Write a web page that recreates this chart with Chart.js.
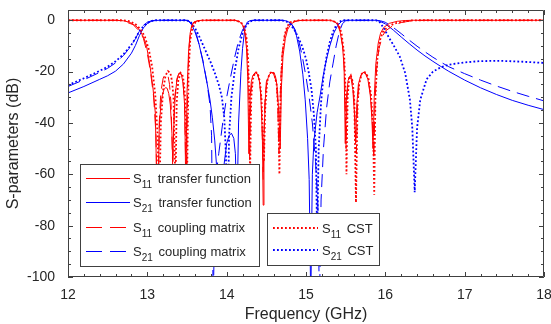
<!DOCTYPE html>
<html>
<head>
<meta charset="utf-8">
<script src="https://cdn.jsdelivr.net/npm/chart.js@4.4.0/dist/chart.umd.min.js"></script>
<style>
  html, body { margin: 0; padding: 0; background: #fff; }
  #wrap { position: relative; width: 551px; height: 324px; font-family: "Liberation Sans", Arial, sans-serif; color: #262626; }
  #c { position: absolute; left: 0; top: 0; }
  .lt { position: absolute; font-size: 13px; line-height: 13px; white-space: nowrap; color: #262626; }
  .lt sub { font-size: 10px; vertical-align: -5px; line-height: 0; margin-right: 2px; }
</style>
</head>
<body>
<div id="wrap">
  <canvas id="c" width="551" height="324"></canvas>

  <div class="lt" style="left:133px;top:172px;">S<sub>11</sub> transfer function</div>
  <div class="lt" style="left:133px;top:196px;">S<sub>21</sub> transfer function</div>
  <div class="lt" style="left:133px;top:221px;">S<sub>11</sub> coupling matrix</div>
  <div class="lt" style="left:133px;top:245px;">S<sub>21</sub> coupling matrix</div>
  <div class="lt" style="left:322px;top:222px;">S<sub>11</sub> CST</div>
  <div class="lt" style="left:322px;top:244px;">S<sub>21</sub> CST</div>
</div>

<script>
// Ejes
const xTicks = [12, 13, 14, 15, 16, 17, 18];
const yTicks = [-100, -80, -60, -40, -20, 0];

// S11 función de transferencia [GHz, dB]
const s11Tf = [
  [12,0],[12.6,0],[12.7,-0.2],[12.77,-0.7],[12.82,-1.5],[12.87,-2.6],[12.91,-4.2],[12.95,-6.4],[12.99,-10],[13.03,-17],[13.07,-26],[13.1,-36],[13.13,-80],
  [13.15,-42],[13.17,-33],[13.19,-29],[13.21,-27],[13.23,-26.2],[13.25,-26.5],[13.27,-28.5],[13.29,-33],[13.31,-44],[13.32,-55],[13.33,-44],[13.35,-30],
  [13.37,-24],[13.39,-21.5],[13.41,-20.6],[13.43,-21.2],[13.45,-24.5],[13.47,-33],[13.485,-65],[13.5,-28],[13.52,-12],[13.54,-5],[13.56,-2],[13.59,-0.6],[13.65,-0.1],[13.7,0],
  [14.1,0],[14.16,-0.5],[14.2,-1.8],[14.23,-5],[14.25,-11],[14.265,-22],[14.28,-52],[14.295,-30],[14.31,-24],[14.33,-21.5],[14.36,-20.5],[14.39,-21],[14.41,-23],
  [14.43,-29],[14.45,-45],[14.46,-72],[14.47,-45],[14.49,-29],[14.51,-23.5],[14.54,-21],[14.57,-20.3],[14.6,-20.6],[14.62,-22.5],[14.64,-27],[14.66,-38],[14.675,-50],
  [14.69,-26],[14.71,-14],[14.74,-7],[14.77,-3.5],[14.81,-1.5],[14.86,-0.5],[14.92,-0.1],[15,0],
  [15.3,0],[15.36,-0.5],[15.4,-1.8],[15.43,-4.5],[15.46,-10],[15.48,-18],[15.495,-48],[15.51,-30],[15.53,-23.5],[15.55,-22],[15.57,-23],[15.59,-27],[15.61,-36],
  [15.625,-48],[15.64,-33],[15.66,-25],[15.69,-21.5],[15.72,-20.3],[15.75,-20.8],[15.78,-23],[15.81,-29],[15.83,-38],[15.845,-50],[15.86,-30],[15.88,-17],
  [15.91,-9],[15.94,-5],[15.98,-2.8],[16.05,-1.2],[16.15,-0.4],[16.25,-0.1],[16.35,0],[18,0]
];

// S21 función de transferencia
const s21Tf = [
  [12,-28.3],[12.2,-25.8],[12.4,-23],[12.5,-21.6],[12.6,-19.8],[12.7,-17],[12.8,-12.8],[12.85,-9.8],[12.9,-6],[12.95,-3],[13,-1.3],[13.05,-0.4],[13.1,-0.1],[13.15,0],
  [13.48,0],[13.52,-0.4],[13.56,-1.8],[13.6,-4.5],[13.65,-9],[13.7,-16],[13.75,-24],[13.79,-31],[13.82,-38],[13.85,-47],[13.88,-60],[13.92,-90],[13.96,-58],
  [14,-48],[14.03,-45],[14.06,-44],[14.09,-46],[14.11,-52],[14.13,-75],[14.15,-40],[14.18,-20],[14.2,-11],[14.23,-3],[14.26,-0.7],[14.3,-0.1],[14.33,0],
  [14.7,0],[14.76,-0.3],[14.8,-1],[14.84,-2.5],[14.88,-6],[14.92,-12],[14.96,-21],[14.99,-31],[15.02,-46],[15.04,-62],[15.06,-110],[15.08,-60],[15.1,-47],
  [15.14,-36],[15.18,-29],[15.22,-21],[15.26,-15],[15.3,-10],[15.35,-5],[15.4,-2],[15.45,-0.4],[15.5,0],
  [15.88,0],[15.93,-0.4],[16,-1.4],[16.1,-3.8],[16.2,-6.5],[16.3,-9.1],[16.4,-11.6],[16.5,-13.9],[16.6,-16],[16.7,-18],[16.8,-19.9],[17,-23.3],[17.2,-26.3],
  [17.4,-28.9],[17.6,-31.2],[17.8,-33.1],[18,-34.8]
];

// S11 matriz de acoplamiento
const s11Cm = [
  [12,0],[12.62,0],[12.7,-0.3],[12.82,-1.7],[12.9,-4.2],[12.95,-7],[13,-13],[13.04,-20],[13.08,-30],[13.11,-45],[13.13,-90],[13.15,-40],[13.17,-28],
  [13.2,-22.5],[13.23,-20.8],[13.26,-21.5],[13.28,-25],[13.3,-33],[13.32,-58],[13.34,-32],[13.37,-23],[13.4,-20.5],[13.43,-21],[13.45,-24],[13.47,-33],
  [13.49,-68],[13.51,-22],[13.53,-9],[13.55,-3.5],[13.58,-1],[13.63,-0.2],[13.7,0],
  [14.1,0],[14.17,-0.6],[14.21,-2.2],[14.24,-6],[14.26,-13],[14.28,-28],[14.29,-55],[14.305,-28],[14.33,-22],[14.36,-20.3],[14.39,-21],[14.42,-25],[14.44,-33],
  [14.46,-62],[14.48,-32],[14.5,-24],[14.53,-21],[14.56,-20.2],[14.59,-20.8],[14.62,-23.5],[14.64,-30],[14.66,-52],[14.68,-24],[14.7,-13],[14.73,-6],
  [14.77,-2.5],[14.82,-0.8],[14.9,-0.1],[15,0],
  [15.3,0],[15.37,-0.6],[15.41,-2],[15.44,-5],[15.47,-12],[15.49,-25],[15.505,-50],[15.52,-28],[15.54,-22.5],[15.56,-21.5],[15.58,-23],[15.6,-28],[15.62,-40],
  [15.635,-52],[15.65,-32],[15.67,-24],[15.7,-21],[15.73,-20.2],[15.76,-21],[15.79,-24],[15.82,-31],[15.84,-42],[15.855,-54],[15.87,-32],[15.89,-19],
  [15.92,-11],[15.96,-6.5],[16,-4.2],[16.1,-2],[16.2,-0.9],[16.3,-0.35],[16.45,-0.05],[16.5,0],[18,0]
];

// S21 matriz de acoplamiento
const s21Cm = [
  [12,-25.8],[12.2,-23.2],[12.4,-20.3],[12.5,-18.7],[12.6,-16.6],[12.7,-13.7],[12.8,-9.8],[12.85,-7.2],[12.9,-4.2],[12.95,-2],[13,-0.8],[13.05,-0.2],[13.1,0],
  [13.5,0],[13.54,-0.6],[13.58,-2.3],[13.62,-5.5],[13.66,-10.5],[13.7,-15.5],[13.75,-24],[13.79,-33],[13.81,-45],[13.83,-110],[13.86,-62],[13.9,-52],
  [13.95,-40],[14,-30],[14.05,-22],[14.1,-14.5],[14.15,-8],[14.2,-3.8],[14.25,-1.2],[14.3,-0.2],[14.35,0],
  [14.72,0],[14.78,-0.5],[14.82,-1.5],[14.86,-3.5],[14.9,-7],[14.95,-13.5],[15,-22],[15.04,-30],[15.08,-40],[15.12,-55],[15.15,-72],[15.17,-110],[15.19,-70],
  [15.22,-50],[15.26,-34],[15.3,-24],[15.34,-17],[15.38,-10],[15.42,-4.5],[15.46,-1.3],[15.5,-0.2],[15.55,0],
  [15.88,0],[15.94,-0.2],[16,-0.8],[16.1,-2.8],[16.2,-5.2],[16.3,-7.7],[16.4,-10.1],[16.5,-12.3],[16.6,-14.4],[16.7,-16.3],[16.8,-18.1],[17,-20.8],
  [17.2,-23.3],[17.4,-25.6],[17.6,-27.7],[17.8,-29.6],[18,-31.4]
];

// S11 CST
const s11Cst = [
  [12,0],[12.7,0],[12.78,-0.4],[12.85,-1.5],[12.92,-3.6],[12.97,-6.5],[13.02,-11.5],[13.06,-18],[13.1,-29],[13.13,-45],[13.15,-75],[13.17,-40],[13.2,-27],
  [13.23,-21.5],[13.26,-19.8],[13.29,-20.5],[13.31,-23.5],[13.33,-30],[13.355,-66],[13.37,-32],[13.39,-23.5],[13.42,-20.5],[13.44,-21],[13.46,-24],
  [13.48,-32],[13.5,-64],[13.52,-20],[13.54,-8],[13.57,-2.5],[13.61,-0.6],[13.7,0],
  [14.1,0],[14.18,-0.7],[14.22,-2.5],[14.25,-7],[14.27,-15],[14.285,-30],[14.295,-60],[14.31,-30],[14.33,-23],[14.36,-20.2],[14.39,-20.5],[14.42,-24],
  [14.44,-31],[14.455,-45],[14.47,-55],[14.485,-35],[14.51,-24],[14.54,-20.8],[14.57,-20],[14.6,-20.8],[14.63,-25],[14.65,-35],[14.665,-60],[14.68,-28],
  [14.7,-14],[14.73,-6],[14.76,-2.5],[14.8,-0.8],[14.88,-0.1],[14.95,0],
  [15.3,0],[15.38,-0.7],[15.42,-2.2],[15.45,-5.5],[15.48,-13],[15.5,-28],[15.51,-60],[15.525,-30],[15.545,-22.5],[15.565,-21.5],[15.59,-24],[15.61,-32],
  [15.63,-71],[15.65,-33],[15.67,-25],[15.7,-21],[15.73,-20],[15.76,-20.6],[15.79,-23],[15.82,-29],[15.845,-42],[15.86,-68],[15.875,-30],[15.9,-15],
  [15.93,-8],[15.97,-4.5],[16.03,-2.5],[16.12,-1.2],[16.22,-0.5],[16.32,-0.1],[16.4,0],[18,0]
];

// S21 CST
const s21Cst = [
  [12,-25.3],[12.2,-22.6],[12.4,-19.7],[12.5,-18.1],[12.6,-16],[12.7,-13.2],[12.8,-9.5],[12.85,-7],[12.9,-4.3],[12.95,-2.3],[13,-1],[13.05,-0.3],[13.1,0],
  [13.5,0],[13.55,-0.8],[13.6,-3],[13.65,-6],[13.7,-9.5],[13.75,-13],[13.8,-16.5],[13.85,-20.5],[13.9,-25],[13.94,-30],[13.97,-38],[13.99,-52],[14.01,-85],
  [14.03,-45],[14.06,-30],[14.1,-20],[14.15,-11],[14.2,-5],[14.25,-1.8],[14.3,-0.4],[14.35,0],
  [14.7,0],[14.76,-0.6],[14.8,-1.6],[14.85,-3.5],[14.9,-6.5],[14.95,-10],[15,-15],[15.03,-19.5],[15.07,-27],[15.1,-37],[15.125,-50],[15.14,-85],[15.16,-50],
  [15.19,-32],[15.22,-22],[15.26,-14],[15.3,-8.5],[15.34,-4.5],[15.38,-2],[15.42,-0.6],[15.46,0],
  [15.88,0],[15.93,-0.8],[15.98,-3],[16.05,-7],[16.1,-9.5],[16.18,-14],[16.25,-20.5],[16.31,-31],[16.34,-42],[16.37,-67],[16.4,-42],[16.44,-31],[16.52,-23],
  [16.6,-20],[16.7,-18.3],[16.8,-17.3],[17,-16.4],[17.2,-15.9],[17.45,-15.8],[17.7,-16.1],[18,-16.6]
];

const toXY = arr => arr.map(p => ({ x: p[0], y: p[1] }));

const rojo = '#ff0000';
const azul = '#0000ff';
const dashCm = [13, 7];
const dashLeyenda = [16, 8];
const dotCst = [1.8, 2.2];

// Marco con ticks hacia adentro (mayores y menores) en los cuatro lados
const marcoTicks = {
  id: 'marcoTicks',
  afterDatasetsDraw(chart) {
    const { ctx, chartArea: a, scales: { x, y } } = chart;
    ctx.save();
    ctx.strokeStyle = '#404040';
    ctx.lineWidth = 1;
    ctx.beginPath();
    ctx.rect(a.left + 0.5, a.top + 0.5, a.right - a.left - 1, a.bottom - a.top - 1);
    ctx.stroke();

    ctx.beginPath();
    for (let i = 0; i <= 30; i++) {
      const f = 12 + i * 0.2;
      const len = i % 5 === 0 ? 5 : 3;
      const px = Math.round(x.getPixelForValue(f)) + 0.5;
      ctx.moveTo(px, a.bottom); ctx.lineTo(px, a.bottom - len);
      ctx.moveTo(px, a.top); ctx.lineTo(px, a.top + len);
    }
    for (let i = 0; i <= 20; i++) {
      const v = -100 + i * 5;
      const len = i % 4 === 0 ? 5 : 3;
      const py = Math.round(y.getPixelForValue(v)) + 0.5;
      ctx.moveTo(a.left, py); ctx.lineTo(a.left + len, py);
      ctx.moveTo(a.right, py); ctx.lineTo(a.right - len, py);
    }
    ctx.stroke();
    ctx.restore();
  }
};

// Cajas de leyenda (las muestras de línea se dibujan en el canvas, el texto es HTML)
const cajasLeyenda = {
  id: 'cajasLeyenda',
  afterDraw(chart) {
    const ctx = chart.ctx;
    ctx.save();
    const caja = (x, y, w, h) => {
      ctx.fillStyle = '#fff';
      ctx.fillRect(x, y, w, h);
      ctx.strokeStyle = '#404040';
      ctx.lineWidth = 1;
      ctx.strokeRect(x + 0.5, y + 0.5, w - 1, h - 1);
    };
    const muestra = (x1, x2, y, color, width, dash) => {
      ctx.beginPath();
      ctx.strokeStyle = color;
      ctx.lineWidth = width;
      ctx.setLineDash(dash);
      ctx.moveTo(x1, y); ctx.lineTo(x2, y);
      ctx.stroke();
      ctx.setLineDash([]);
    };
    caja(80, 164, 180, 103);
    caja(267, 213, 113, 53);
    muestra(86, 130, 178.5, rojo, 1, []);
    muestra(86, 130, 202.5, azul, 1, []);
    muestra(86, 130, 227.5, rojo, 1, dashLeyenda);
    muestra(86, 130, 251.5, azul, 1, dashLeyenda);
    muestra(273, 318, 228, rojo, 1.8, dotCst);
    muestra(273, 318, 250, azul, 1.8, dotCst);
    ctx.restore();
  }
};

Chart.defaults.font.family = '"Liberation Sans", Arial, sans-serif';
Chart.defaults.color = '#262626';

new Chart(document.getElementById('c'), {
  type: 'line',
  data: {
    datasets: [
      { label: 'S11 transfer function', data: toXY(s11Tf), borderColor: rojo, borderWidth: 1, order: 2 },
      { label: 'S21 transfer function', data: toXY(s21Tf), borderColor: azul, borderWidth: 1, order: 2 },
      { label: 'S11 coupling matrix', data: toXY(s11Cm), borderColor: rojo, borderWidth: 1, borderDash: dashCm, order: 1 },
      { label: 'S21 coupling matrix', data: toXY(s21Cm), borderColor: azul, borderWidth: 1, borderDash: dashCm, order: 1 },
      { label: 'S11 CST', data: toXY(s11Cst), borderColor: rojo, borderWidth: 1.8, borderDash: dotCst, order: 0 },
      { label: 'S21 CST', data: toXY(s21Cst), borderColor: azul, borderWidth: 1.8, borderDash: dotCst, order: 0 }
    ]
  },
  options: {
    responsive: false,
    animation: false,
    devicePixelRatio: 1,
    layout: { padding: { top: 10, right: 7, left: 0, bottom: 0 } },
    elements: { point: { radius: 0 }, line: { tension: 0, fill: false } },
    plugins: { legend: { display: false }, tooltip: { enabled: false } },
    scales: {
      x: {
        type: 'linear',
        min: 12, max: 18,
        grid: { display: false },
        border: { display: false },
        ticks: { font: { size: 14 }, padding: 2, maxRotation: 0 },
        title: { display: true, text: 'Frequency (GHz)', font: { size: 16 }, padding: { top: 0, bottom: 0 } },
        afterBuildTicks: s => { s.ticks = xTicks.map(v => ({ value: v })); },
        afterFit: s => { s.height = 47; s.paddingLeft = 0; s.paddingRight = 0; }
      },
      y: {
        type: 'linear',
        min: -100, max: 4,
        grid: { display: false },
        border: { display: false },
        ticks: { font: { size: 14 }, padding: 5 },
        title: { display: true, text: 'S-parameters (dB)', font: { size: 16 }, padding: { top: 4, bottom: 0 } },
        afterBuildTicks: s => { s.ticks = yTicks.map(v => ({ value: v })); },
        afterFit: s => { s.width = 68; s.paddingTop = 0; s.paddingBottom = 0; }
      }
    }
  },
  plugins: [marcoTicks, cajasLeyenda]
});
</script>
</body>
</html>
